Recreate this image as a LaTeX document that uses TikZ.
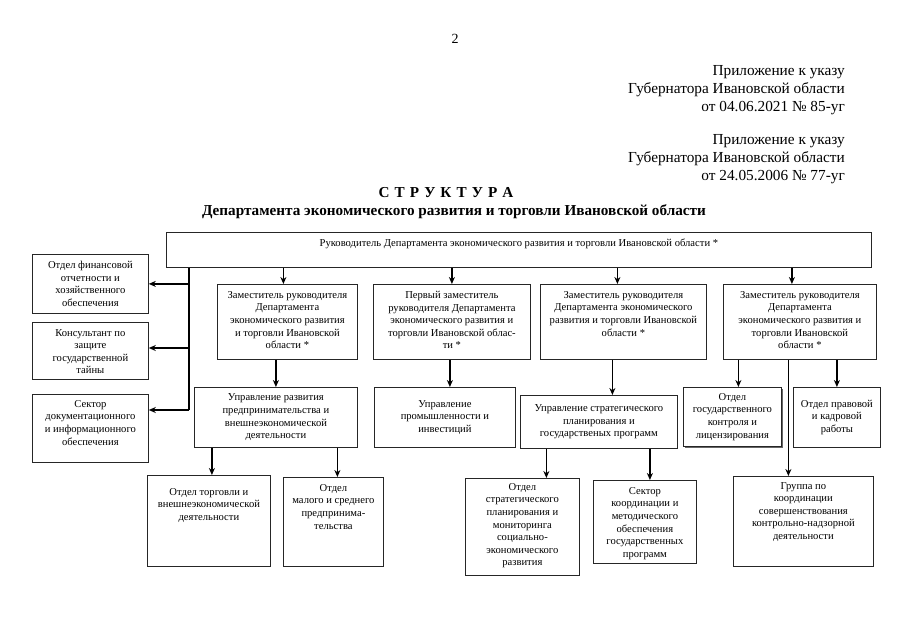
\documentclass[tikz,border=0pt]{standalone}
\usepackage{fontspec}
\setmainfont{Liberation Serif}
\usetikzlibrary{positioning}
\usetikzlibrary{shadows}
\usetikzlibrary{arrows,arrows.meta}

\begin{document}
\begin{tikzpicture}[x=1pt,y=-1pt,>={Stealth[length=7pt,width=6pt]},node distance=7pt,
	font=\fontsize{10.6}{12.6}\selectfont,
	box/.style={draw=black!85,line width=0.8pt,fill=white,anchor=north west,
		inner sep=0pt,align=center,
		drop shadow={shadow xshift=1pt,shadow yshift=-1pt,fill=black!55,opacity=1}},
	txt/.style={align=center,inner sep=0pt},
	head/.style={align=right,inner sep=0pt,anchor=north east,
		font=\fontsize{15.3}{18.3}\selectfont},
	link/.style={->,line width=1.2pt}]
	
	\useasboundingbox (0,0) rectangle (905,640);
	
	% header
	\node[inner sep=0pt,anchor=base,font=\fontsize{14}{16}\selectfont] (page) at (455,43) {2};
	\node[head] (ukaz1) at (845,65) {Приложение к указу\\Губернатора Ивановской области\\от 04.06.2021 № 85-уг};
	\node[head] (ukaz2) at (845,134) {Приложение к указу\\Губернатора Ивановской области\\от 24.05.2006 № 77-уг};
	\node[inner sep=0pt,anchor=base,font=\fontsize{15.2}{17}\selectfont\bfseries] (title) at (446,197) {С\,\,Т\,\,Р\,\,У\,\,К\,\,Т\,\,У\,\,Р\,\,А};
	\node[inner sep=0pt,anchor=base,font=\fontsize{15.2}{17}\selectfont\bfseries] (subtitle) at (454,215) {Департамента экономического развития и торговли Ивановской области};
	
	% head of department
	\node[box,minimum width=705,minimum height=35] (boss) at (166,232) {};
	\node[txt,below=of boss.north] {Руководитель Департамента экономического развития и торговли Ивановской области *};
	
	% left column
	\node[box,minimum width=116,minimum height=59] (fin) at (32,254) {};
	\node[txt,below=of fin.north] {Отдел финансовой\\отчетности и\\хозяйственного\\обеспечения};
	\node[box,minimum width=116,minimum height=57] (kons) at (32,322) {};
	\node[txt,below=of kons.north] {Консультант по\\защите\\государственной\\тайны};
	\node[box,minimum width=116,minimum height=68] (doc) at (32,394) {};
	\node[txt,below=6pt of doc.north] {Сектор\\документационного\\и информационного\\обеспечения};
	
	% deputies
	\node[box,minimum width=140,minimum height=75] (zam1) at (217,284) {};
	\node[txt,below=of zam1.north] {Заместитель руководителя\\Департамента\\экономического развития\\и торговли Ивановской\\области *};
	\node[box,minimum width=157,minimum height=75] (zam2) at (373,284) {};
	\node[txt,below=of zam2.north] {Первый заместитель\\руководителя Департамента\\экономического развития и\\торговли Ивановской облас-\\ти *};
	\node[box,minimum width=166,minimum height=75] (zam3) at (540,284) {};
	\node[txt,below=of zam3.north] {Заместитель руководителя\\Департамента экономического\\развития и торговли Ивановской\\области *};
	\node[box,minimum width=153,minimum height=75] (zam4) at (723,284) {};
	\node[txt,below=of zam4.north] {Заместитель руководителя\\Департамента\\экономического развития и\\торговли Ивановской\\области *};
	
	% second level
	\node[box,minimum width=163,minimum height=60] (upr1) at (194,387) {Управление развития\\предпринимательства и\\внешнеэкономической\\деятельности};
	\node[box,minimum width=141,minimum height=60] (upr2) at (374,387) {Управление\\промышленности и\\инвестиций};
	\node[box,minimum width=157,minimum height=53] (upr3) at (520,395) {Управление стратегического\\планирования и\\государственых программ};
	\node[box,minimum width=98,minimum height=59,
		drop shadow={shadow xshift=2pt,shadow yshift=-2pt,fill=black!60,opacity=1}] (kontrol) at (683,387) {Отдел\\государственного\\контроля и\\лицензирования};
	\node[box,minimum width=87,minimum height=60] (kadry) at (793,387) {Отдел правовой\\и кадровой\\работы};
	
	% third level
	\node[box,minimum width=123,minimum height=91] (torg) at (147,475) {};
	\node[txt,below=13pt of torg.north] {Отдел торговли и\\внешнеэкономической\\деятельности};
	\node[box,minimum width=100,minimum height=89] (msp) at (283,477) {};
	\node[txt,below=of msp.north] {Отдел\\малого и среднего\\предпринима-\\тельства};
	\node[box,minimum width=114,minimum height=97] (monitor) at (465,478) {};
	\node[txt,below=5pt of monitor.north] {Отдел\\стратегического\\планирования и\\мониторинга\\социально-\\экономического\\развития};
	\node[box,minimum width=103,minimum height=83] (progr) at (593,480) {};
	\node[txt,below=of progr.north] {Сектор\\координации и\\методического\\обеспечения\\государственных\\программ};
	\node[box,minimum width=140,minimum height=90] (gruppa) at (733,476) {};
	\node[txt,below=6pt of gruppa.north] {Группа по\\координации\\совершенствования\\контрольно-надзорной\\деятельности};
	
	% connectors
	\coordinate (trunk) at (189,410);
	\draw[line width=1.2pt] (boss.south -| trunk) -- (trunk);
	\draw[link] (trunk |- fin.east) -- (fin.east);
	\draw[link] (trunk |- 0,348) -- (kons.east |- 0,348);
	\draw[link] (trunk) -- (trunk -| doc.east);
	
	\draw[link] ([xshift=-4]zam1.north |- boss.south) -- ([xshift=-4]zam1.north);
	\draw[link] (zam2.north |- boss.south) -- (zam2.north);
	\draw[link] ([xshift=-6]zam3.north |- boss.south) -- ([xshift=-6]zam3.north);
	\draw[link] ([xshift=-8]zam4.north |- boss.south) -- ([xshift=-8]zam4.north);
	
	\draw[link] (upr1.north |- zam1.south) -- (upr1.north);
	\draw[link] ([xshift=-2]zam2.south) -- ([xshift=-2]zam2.south |- upr2.north);
	\draw[link] ([xshift=-11]zam3.south) -- ([xshift=-11]zam3.south |- upr3.north);
	\draw[link] ([xshift=6]kontrol.north |- zam4.south) -- ([xshift=6]kontrol.north);
	\draw[link] (kadry.north |- zam4.south) -- (kadry.north);
	\draw[link] ([xshift=-15]gruppa.north |- zam4.south) -- ([xshift=-15]gruppa.north);
	
	\draw[link] ([xshift=3]torg.north |- upr1.south) -- ([xshift=3]torg.north);
	\draw[link] ([xshift=4]msp.north |- upr1.south) -- ([xshift=4]msp.north);
	\draw[link] ([xshift=24]monitor.north |- upr3.south) -- ([xshift=24]monitor.north);
	\draw[link] ([xshift=5]progr.north |- upr3.south) -- ([xshift=5]progr.north);
\end{tikzpicture}
\end{document}
